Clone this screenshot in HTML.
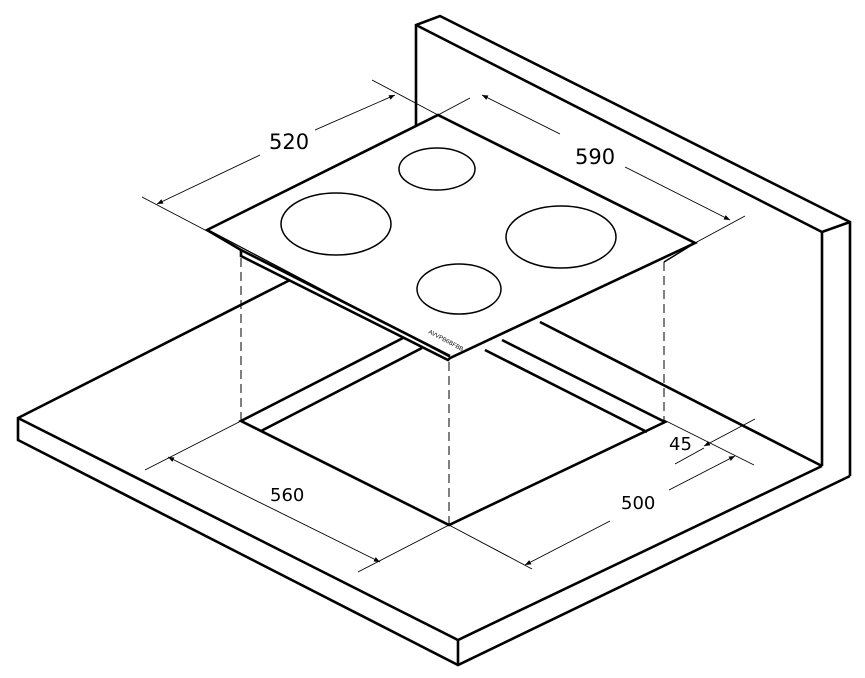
<!DOCTYPE html>
<html><head><meta charset="utf-8"><style>html,body{margin:0;padding:0;background:#fff}svg{display:block}</style></head>
<body>
<svg width="865" height="678" viewBox="0 0 865 678" xmlns="http://www.w3.org/2000/svg">
<defs>
<marker id="a" viewBox="0 0 10 10" refX="10" refY="5" markerWidth="9" markerHeight="6" orient="auto-start-reverse" markerUnits="userSpaceOnUse"><path d="M0,1 L10,5 L0,9 z" fill="#000"/></marker>
</defs>
<g fill="none" stroke="#000" stroke-width="2.6" stroke-linejoin="miter">
<!-- wall -->
<polyline points="416,125 416,25 440,16 850,222 850,476"/>
<polyline points="416,25 822,232 850,222"/>
<line x1="822" y1="232" x2="822" y2="466"/>
<!-- counter -->
<polyline points="290,280 18,418 18,440 458,665 850,476"/>
<polyline points="18,418 458,640 822,466"/>
<line x1="458" y1="640" x2="458" y2="665"/>
<line x1="822" y1="466" x2="540" y2="322"/>
<!-- cutout -->
<polyline points="403,338 241,421 449,525 665,422 502,340"/>
<line x1="261" y1="431" x2="422" y2="348"/>
<line x1="647" y1="432" x2="485" y2="350"/>
<!-- hob -->
<polygon points="207,230 438,115 695,243 450,358" fill="#fff"/>
<polyline points="207,230 241,250 241,256 448,360 450,358" fill="#fff"/>
<line x1="241" y1="250" x2="450" y2="356"/>
<line x1="695" y1="243" x2="664" y2="262" stroke-width="1.5"/>
</g>
<g fill="none" stroke="#000" stroke-width="1.5">
<ellipse cx="336" cy="224" rx="55" ry="31"/>
<ellipse cx="437" cy="169" rx="38" ry="21"/>
<ellipse cx="561" cy="237" rx="55" ry="31"/>
<ellipse cx="459" cy="289" rx="42" ry="25"/>
</g>
<text x="0" y="0" font-family="Liberation Sans, sans-serif" font-size="6" transform="translate(428,333) rotate(28)">AVVPB6BFBB</text>
<!-- dashed -->
<g stroke="#000" stroke-width="1" stroke-dasharray="9,5" fill="none">
<line x1="241" y1="258" x2="241" y2="421"/>
<line x1="449" y1="362" x2="449" y2="525"/>
<line x1="664" y1="262" x2="664" y2="420"/>
</g>
<!-- dimension lines -->
<g stroke="#000" stroke-width="0.9" fill="none">
<line x1="142" y1="197" x2="205" y2="230"/>
<line x1="372" y1="80" x2="438" y2="115"/>
<line x1="157" y1="204" x2="260" y2="155" marker-start="url(#a)"/>
<line x1="315" y1="130" x2="395" y2="95" marker-end="url(#a)"/>
<line x1="438" y1="115" x2="470" y2="98"/>
<line x1="695" y1="243" x2="745" y2="216"/>
<line x1="482" y1="95" x2="560" y2="134" marker-start="url(#a)"/>
<line x1="625" y1="167" x2="730" y2="220" marker-end="url(#a)"/>
<line x1="145" y1="470" x2="241" y2="421"/>
<line x1="449" y1="525" x2="358" y2="572"/>
<line x1="168" y1="457" x2="380" y2="562" marker-start="url(#a)" marker-end="url(#a)"/>
<line x1="449" y1="525" x2="532" y2="569"/>
<line x1="525" y1="565" x2="610" y2="521" marker-start="url(#a)"/>
<line x1="669" y1="490" x2="735" y2="456" marker-end="url(#a)"/>
<line x1="664" y1="420" x2="754" y2="465"/>
<line x1="704" y1="446" x2="755" y2="419" marker-start="url(#a)"/>
<line x1="675" y1="464" x2="704" y2="448"/>
</g>
<g font-family="DejaVu Sans, Liberation Sans, sans-serif" fill="#000">
<text x="269" y="149" font-size="21">520</text>
<text x="575" y="164" font-size="21">590</text>
<text x="270" y="501" font-size="18">560</text>
<text x="621" y="509" font-size="18">500</text>
<text x="669" y="450" font-size="18">45</text>
</g>
</svg>
</body></html>
